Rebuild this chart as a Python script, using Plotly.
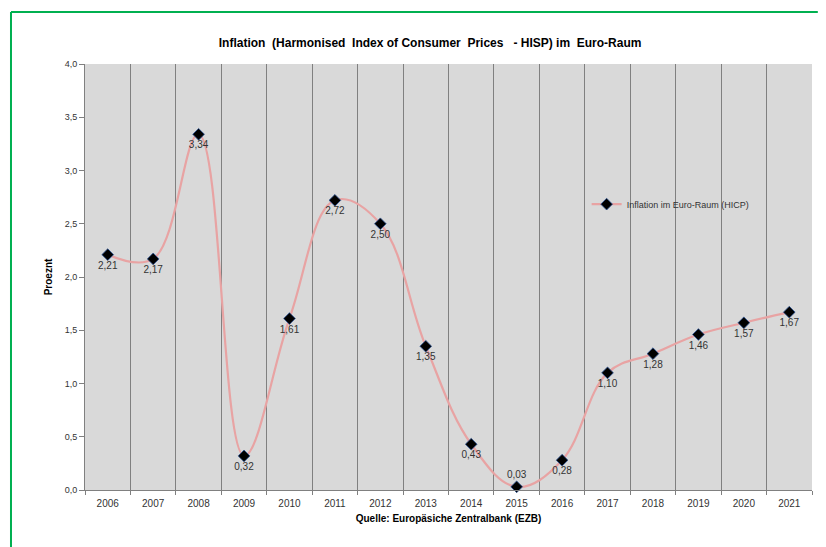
import plotly.graph_objects as go

jahre = [str(j) for j in range(2006, 2022)]
inflation = [2.21, 2.17, 3.34, 0.32, 1.61, 2.72, 2.50, 1.35, 0.43, 0.03,
             0.28, 1.10, 1.28, 1.46, 1.57, 1.67]
etiketten = [f"{v:.2f}".replace('.', ',') for v in inflation]
# 2015 liegt auf der Achse, daher Beschriftung oberhalb
positionen = ['top center' if j == '2015' else 'bottom center' for j in jahre]

fig = go.Figure()

fig.add_trace(go.Scatter(
    x=jahre,
    y=inflation,
    mode='lines+markers+text',
    name='Inflation im Euro-Raum (HICP)',
    line=dict(color='#E8A3A3', width=2.2, shape='spline', smoothing=1.1),
    marker=dict(symbol='diamond', size=9, color='black',
                line=dict(color='#2F5597', width=0.8)),
    text=etiketten,
    textposition=positionen,
    textfont=dict(family='Liberation Sans, Arial', size=10, color='#333333'),
    cliponaxis=False,
))

# Grüner Rahmen (nur oben und links sichtbar)
rahmen = dict(type='line', xref='paper', yref='paper',
              line=dict(color='#00B050', width=2), layer='below')
fig.add_shape(x0=-0.1018, x1=1.008, y0=1.122, y1=1.122, **rahmen)
fig.add_shape(x0=-0.1018, x1=-0.1018, y0=-0.14, y1=1.122, **rahmen)

fig.update_layout(
    width=826,
    height=547,
    margin=dict(l=77, r=22, t=56, b=65),
    paper_bgcolor='white',
    plot_bgcolor='#D9D9D9',
    separators=',.',
    font=dict(family='Liberation Sans, Arial', size=10, color='#333333'),
    title=dict(
        text='<b>Inflation  (Harmonised  Index of Consumer  Prices   - HISP) im  Euro-Raum</b>',
        x=0.511, xanchor='center', y=1 - 35 / 547, yanchor='middle',
        font=dict(family='Liberation Sans, Arial', size=12, color='black'),
    ),
    showlegend=True,
    legend=dict(
        x=0.69, y=0.671, xanchor='left', yanchor='middle',
        bgcolor='rgba(0,0,0,0)',
        font=dict(family='Liberation Sans, Arial', size=9, color='#333333'),
    ),
    xaxis=dict(
        type='category',
        range=[-0.5, 15.5],
        tickson='boundaries',
        automargin=False,
        showgrid=True,
        gridcolor='#808080',
        gridwidth=1,
        ticks='outside',
        ticklen=4,
        tickcolor='#808080',
        ticklabelstandoff=4,
        showline=True,
        linecolor='#808080',
        tickfont=dict(size=10, color='#333333'),
        title=dict(text='<b>Quelle: Europäsiche Zentralbank (EZB)</b>',
                   standoff=6,
                   font=dict(size=10, color='black')),
    ),
    yaxis=dict(
        range=[0, 4],
        dtick=0.5,
        tickformat='.1f',
        automargin=False,
        showgrid=False,
        zeroline=False,
        ticks='outside',
        ticklen=5,
        tickcolor='#808080',
        showline=True,
        linecolor='#808080',
        tickfont=dict(size=9, color='#333333'),
        title=dict(text='<b>Proeznt</b>', standoff=10,
                   font=dict(size=10, color='black')),
    ),
)

fig.write_html("out.html")
